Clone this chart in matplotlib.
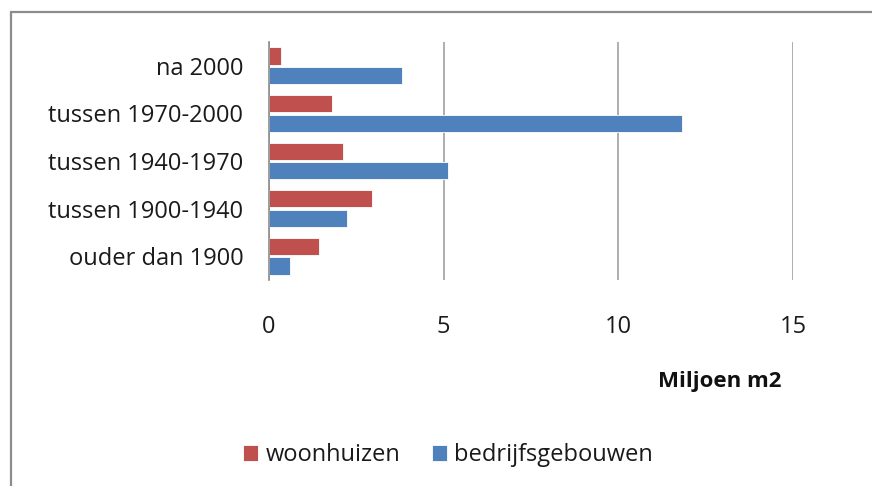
import matplotlib
matplotlib.use("Agg")
import matplotlib.pyplot as plt
from matplotlib.patches import Rectangle
import numpy as np

categories = ["ouder dan 1900", "tussen 1900-1940", "tussen 1940-1970", "tussen 1970-2000", "na 2000"]
woonhuizen = [1.42, 2.96, 2.13, 1.79, 0.34]
bedrijfsgebouwen = [0.60, 2.22, 5.11, 11.83, 3.81]
xticks = [0, 5, 10, 15]

plt.rcParams['font.family'] = ['Open Sans', 'DejaVu Sans']

red = "#c0504d"
blue = "#4f81bd"

fig = plt.figure(figsize=(8.72, 4.86), dpi=100)
fig.patch.set_facecolor("white")

# outer frame (extends beyond the image at right/bottom)
frame = Rectangle((11/872, -0.1), 1.0, (1 - 12/486) + 0.1, transform=fig.transFigure,
                  fill=False, edgecolor="#8c8c8c", linewidth=1.6)
fig.patches.append(frame)

ax = fig.add_axes([269/872, 1 - 280/486, (793 - 269)/872, (280 - 42)/486])
y = np.arange(len(categories))
h = 0.36
ax.barh(y + 0.205, woonhuizen, height=h, color=red, edgecolor="white", linewidth=0.6, label="woonhuizen", zorder=3)
ax.barh(y - 0.205, bedrijfsgebouwen, height=h, color=blue, edgecolor="white", linewidth=0.6, label="bedrijfsgebouwen", zorder=3)

ax.set_xlim(0, 15)
ax.set_ylim(-0.5, len(categories) - 0.5)
ax.set_xticks(xticks)
ax.set_xticklabels([str(t) for t in xticks], fontsize=17, color="#1a1a1a")
ax.set_yticks(y)
ax.set_yticklabels(categories, fontsize=17, color="#1a1a1a")
ax.tick_params(axis="both", length=0)
ax.tick_params(axis="x", pad=25.5)
ax.tick_params(axis="y", pad=18.5)
for s in ["top", "right", "bottom"]:
    ax.spines[s].set_visible(False)
ax.spines["left"].set_color("#8c8c8c")
ax.spines["left"].set_linewidth(1.2)
ax.spines["left"].set_zorder(4)
ax.xaxis.grid(True, color="#999999", linewidth=1.1)
ax.set_axisbelow(True)

fig.text(720/872, 1 - 381/486, "Miljoen m2", fontsize=16, fontweight="bold",
         ha="center", va="center", color="#111111")

handles, labels = ax.get_legend_handles_labels()
leg = fig.legend(handles, labels, loc="center", bbox_to_anchor=(448/872, 1 - 455/486),
                 ncol=2, frameon=False, fontsize=17, handlelength=0.65, handleheight=0.65,
                 handletextpad=0.3, columnspacing=1.35)
for t in leg.get_texts():
    t.set_color("#1a1a1a")

fig.savefig("out.png", dpi=100, facecolor="white")
